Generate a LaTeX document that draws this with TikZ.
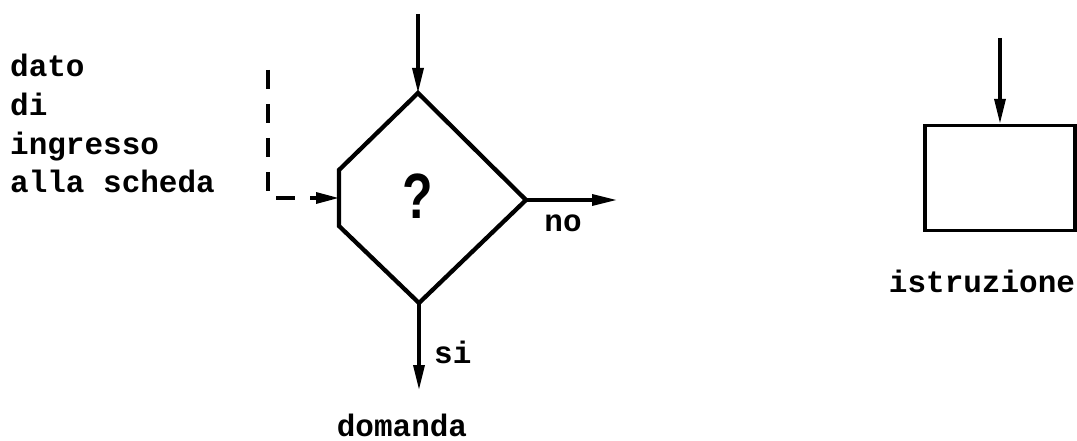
\documentclass[tikz,border=0pt]{standalone}
\usepackage{fontspec}
\setmonofont{Liberation Mono}
\newfontfamily\qfont{Liberation Sans}
\usetikzlibrary{arrows.meta}
\begin{document}
\begin{tikzpicture}[x=1pt,y=-1pt,
  shapeline/.style={line width=4.3pt,line join=miter},
  arr/.style={line width=3.4pt,-{Triangle[length=25pt,width=11pt]}},
  dashline/.style={line width=3.2pt,dash pattern=on 19pt off 15pt,-{Triangle[length=23pt,width=11pt]}},
  lbl/.style={font=\ttfamily\bfseries\fontsize{31}{38.7}\selectfont,inner sep=0pt},
]
\useasboundingbox (0,0) rectangle (1077,441);
% decision shape
\coordinate (dtop) at (418,93);
\coordinate (dright) at (526,200);
\coordinate (dbot) at (419,303);
\coordinate (dlu) at (339,170);
\coordinate (dll) at (339,226);
\coordinate (dleft) at (339,198);
\draw[shapeline] (dtop) -- (dright) -- (dbot) -- (dll) -- (dlu) -- cycle;
\node[font=\qfont\bfseries\fontsize{64}{64}\selectfont,xscale=0.78,inner sep=0pt] (q) at (418,196) {?};
% connectors
\coordinate (intop) at (418,14);
\draw[arr] (intop) -- (dtop);
\coordinate (noend) at (617,200);
\draw[arr] (dright) -- (noend);
\coordinate (siend) at (419,390);
\draw[arr] (dbot) -- (siend);
\coordinate (dstart) at (268,70);
\coordinate (dcorner) at (268,198);
\draw[dashline] (dstart) -- (dcorner) -- (dleft);
\node[lbl,anchor=base] (no) at (563,232) {no};
\node[lbl,anchor=base west] (si) at (434,363) {si};
\node[lbl,anchor=base] (dom) at (402,436) {domanda};
\node[lbl,anchor=base west,align=left] (dato) at (10,193) {dato\\di\\ingresso\\alla scheda};
% instruction box
\node[draw,line width=3.4pt,minimum width=150pt,minimum height=105pt,inner sep=0pt] (box) at (1000,178) {};
\coordinate (boxin) at (1000,38);
\draw[arr] (boxin) -- (box.north);
\node[lbl,anchor=base] (istr) at (982,292) {istruzione};
\end{tikzpicture}
\end{document}
